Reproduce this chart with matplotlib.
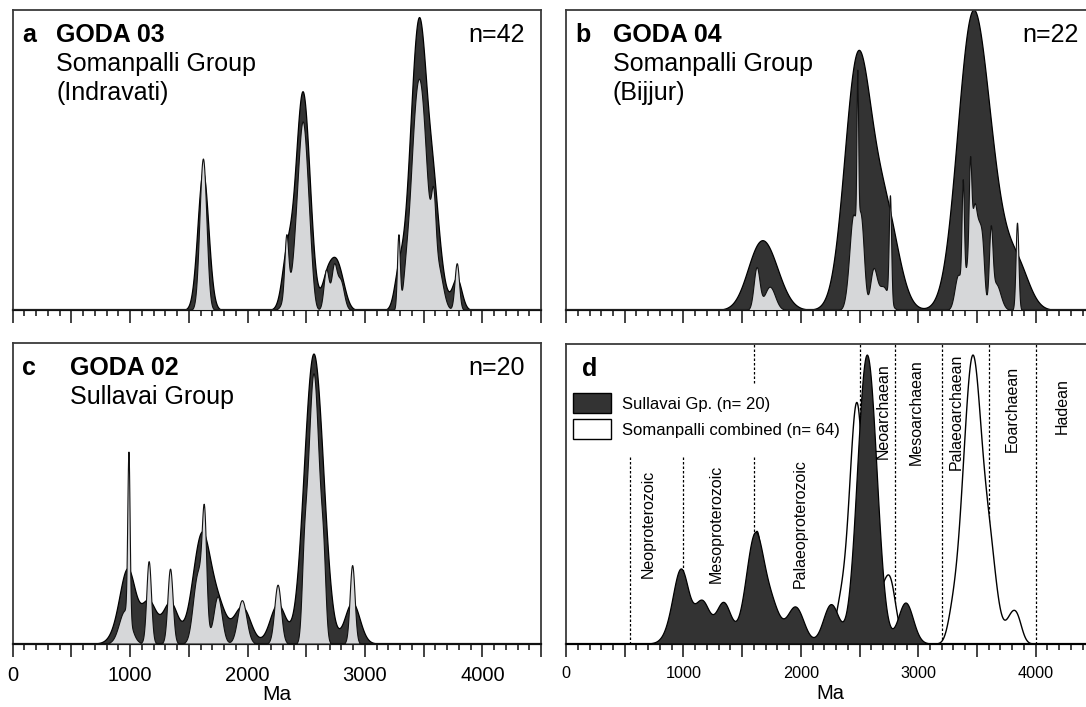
import numpy as np
import matplotlib
matplotlib.use("Agg")
import matplotlib.pyplot as plt
from matplotlib.patches import Patch

plt.rcParams['font.family'] = ['Liberation Sans', 'DejaVu Sans']

# U-Pb zircon ages (Ma) and 1-sigma errors, estimated from the spectra
ages_a = [1598, 1612, 1620, 1628, 1642,
          2330, 2350,
          2404, 2428, 2443, 2455, 2465, 2475, 2485, 2497, 2512, 2536,
          2670, 2735, 2790,
          3285,
          3347, 3379, 3397, 3411, 3422, 3432, 3442, 3451, 3460, 3469, 3478,
          3488, 3498, 3509, 3523, 3541, 3573,
          3583, 3610, 3630, 3782]
errs_a = [25, 25, 25, 25, 25,
          16, 40,
          25, 25, 25, 25, 25, 25, 25, 25, 25, 25,
          22, 22, 30,
          12,
          25, 25, 25, 25, 25, 25, 25, 25, 25, 25, 25,
          25, 25, 25, 25, 25, 25,
          18, 40, 40, 19]

ages_b = [1623, 1735,
          2420, 2445, 2470, 2481, 2500, 2525, 2617, 2700, 2759,
          3340, 3379, 3420, 3441, 3465, 3485, 3515, 3545, 3617, 3660, 3841]
errs_b = [25, 45,
          30, 24, 30, 7, 22, 22, 28, 45, 10,
          30, 10, 25, 11, 20, 18, 18, 18, 15, 40, 12]

ages_c = [955, 986, 1158, 1340,
          1560, 1610, 1630, 1745,
          1952, 2256,
          2480, 2510, 2532, 2548, 2562, 2576, 2592, 2614, 2645,
          2891]
errs_c = [50, 10, 20, 22,
          35, 35, 18, 35,
          38, 28,
          20, 20, 20, 20, 20, 20, 20, 20, 20,
          21]

# kernel bandwidths (Ma) and peak heights
kde_bw = {'a': 36, 'b': 100, 'c': 60}
dark_top = {'a': 0.975, 'b': 1.0, 'c': 0.965}
light_top = {'a': 0.77, 'b': 0.80, 'c': 0.90}
d_bw_sull = 60
d_bw_soman = 40
d_tops = [0.965, 0.965]

panel_names = ['GODA 03', 'GODA 04', 'GODA 02']
panel_groups = [['Somanpalli Group', '(Indravati)'],
                ['Somanpalli Group', '(Bijjur)'],
                ['Sullavai Group']]
panel_n = ['n=42', 'n=22', 'n=20']
legend_labels = ['Sullavai Gp. (n= 20)', 'Somanpalli combined (n= 64)']

eon_bounds = [541, 1000, 1600, 2500, 2800, 3200, 3600, 4000]
eon_names = ['Neoproterozoic', 'Mesoproterozoic', 'Palaeoproterozoic',
             'Neoarchaean', 'Mesoarchaean', 'Palaeoarchaean', 'Eoarchaean', 'Hadean']
eon_label_x = [702, 1280, 1991, 2702, 2984, 3324, 3799, 4228]
eon_label_y = [0.40, 0.40, 0.40, 0.777, 0.774, 0.774, 0.785, 0.793]

tick_labels = ['0', '', '1000', '', '2000', '', '3000', '', '4000', '']

DARK = '#333333'
LIGHT = '#d6d7d9'

x = np.linspace(0, 4500, 4501)


def density(ages, errs, bw):
    a = np.asarray(ages, float)
    s = np.sqrt(np.asarray(errs, float) ** 2 + bw ** 2)
    return (np.exp(-0.5 * ((x[:, None] - a) / s) ** 2) / s).sum(axis=1)


def style_axis(ax, labels, lsize):
    ax.set_xlim(0, 4500)
    ax.set_ylim(0, 1)
    ax.set_yticks([])
    ax.set_xticks(np.arange(0, 4501, 500))
    ax.set_xticks(np.arange(0, 4501, 100), minor=True)
    ax.tick_params(axis='x', which='major', direction='out', length=9.5, width=1.2,
                   color='#222222', pad=7, labelsize=lsize)
    ax.tick_params(axis='x', which='minor', direction='out', length=4, width=1.2,
                   color='#222222')
    if labels:
        ax.set_xticklabels(tick_labels)
    else:
        ax.set_xticklabels([])
    for side in ['left', 'right', 'top']:
        ax.spines[side].set_color('#3a3a3a')
        ax.spines[side].set_linewidth(1.3)
    ax.spines['bottom'].set_color('#222222')
    ax.spines['bottom'].set_linewidth(1.6)


fig = plt.figure(figsize=(10.86, 7.07), dpi=100)
W, H = 0.4865, 0.425
rects = {'a': [0.0117, 0.5615, W, H], 'b': [0.5212, 0.5615, W, H],
         'c': [0.0117, 0.0898, W, H], 'd': [0.5212, 0.0898, W, 0.4235]}

data = {'a': (ages_a, errs_a), 'b': (ages_b, errs_b), 'c': (ages_c, errs_c)}
title_x = {'a': 0.082, 'b': 0.088, 'c': 0.109}

for i, key in enumerate(['a', 'b', 'c']):
    ax = fig.add_axes(rects[key])
    ages, errs = data[key]
    kde = density(ages, errs, kde_bw[key])
    pdp = density(ages, errs, 0)
    kde = kde / kde.max() * dark_top[key]
    pdp = pdp / pdp.max() * light_top[key]
    ax.fill_between(x, 0, kde, facecolor=DARK, edgecolor='black', linewidth=0.9, zorder=2)
    ax.fill_between(x, 0, pdp, facecolor=LIGHT, edgecolor='#111111', linewidth=0.8, zorder=3)
    style_axis(ax, key == 'c', 14.5)
    if key == 'c':
        ax.set_xlabel('Ma', fontsize=15, labelpad=0)
    ax.text(0.018, 0.893, key, transform=ax.transAxes, fontsize=18, fontweight='bold')
    ax.text(title_x[key], 0.893, panel_names[i], transform=ax.transAxes,
            fontsize=18, fontweight='bold')
    for j, line in enumerate(panel_groups[i]):
        ax.text(title_x[key], 0.796 - 0.097 * j, line, transform=ax.transAxes, fontsize=18)
    ax.text(0.970, 0.893, panel_n[i], transform=ax.transAxes, fontsize=18, ha='right')

# panel d: combined spectra
ax = fig.add_axes(rects['d'])
soman = density(ages_a + ages_b, errs_a + errs_b, d_bw_soman)
sull = density(ages_c, errs_c, d_bw_sull)
soman = soman / soman.max() * d_tops[1]
sull = sull / sull.max() * d_tops[0]
ax.fill_between(x, 0, soman, facecolor='white', edgecolor='black', linewidth=1.0, zorder=2)
ax.fill_between(x, 0, sull, facecolor=DARK, edgecolor='black', linewidth=0.9, zorder=3)
for b in eon_bounds:
    if b in (541, 1000):
        spans = [(0, 0.63)]
    elif b == 1600:
        spans = [(0, 0.63), (0.87, 1)]
    else:
        spans = [(0, 1)]
    for lo, hi in spans:
        ax.axvline(b, ymin=lo, ymax=hi, color='black', linewidth=0.9,
                   linestyle=(0, (2, 1.6)), zorder=1)
for name, lx, ly in zip(eon_names, eon_label_x, eon_label_y):
    ax.text(lx, ly, name, rotation=90, ha='center', va='center', fontsize=11.5,
            transform=ax.get_xaxis_transform())
style_axis(ax, True, 11.7)
ax.set_xlabel('Ma', fontsize=14.5, labelpad=2)
ax.text(0.030, 0.893, 'd', transform=ax.transAxes, fontsize=18, fontweight='bold')
handles = [Patch(facecolor=DARK, edgecolor='black', linewidth=1.0),
           Patch(facecolor='white', edgecolor='black', linewidth=1.0)]
ax.legend(handles, legend_labels, loc='upper left', bbox_to_anchor=(0.0133, 0.836),
          frameon=False, fontsize=12, handlelength=2.3, handleheight=1.45,
          labelspacing=0.38, handletextpad=0.65, borderpad=0, borderaxespad=0)

fig.savefig('out.png', dpi=100)
